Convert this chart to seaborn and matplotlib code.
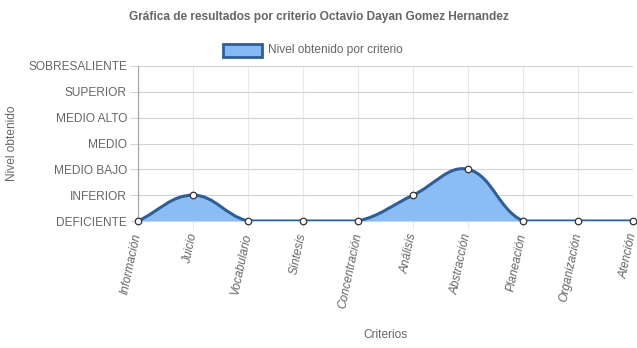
import numpy as np
import pandas as pd
import matplotlib
matplotlib.use("Agg")
import matplotlib.pyplot as plt
from matplotlib.path import Path
from matplotlib.patches import PathPatch, Rectangle
import seaborn as sns

criterios = ["Información", "Juicio", "Vocabulario", "Síntesis", "Concentración",
             "Análisis", "Abstracción", "Planeación", "Organización", "Atención"]
niveles = ["DEFICIENTE", "INFERIOR", "MEDIO BAJO", "MEDIO", "MEDIO ALTO",
           "SUPERIOR", "SOBRESALIENTE"]
valores = [0, 1, 0, 0, 0, 1, 2, 0, 0, 0]

titulo = "Gráfica de resultados por criterio Octavio Dayan Gomez Hernandez"
serie = "Nivel obtenido por criterio"

sns.set_theme(style="white")
plt.rcParams['font.family'] = ['Liberation Sans', 'DejaVu Sans']

GRAY = "#666666"
LINE = "#2e5f98"
FILL = "#86b9f4"
HGRID = "#d2d2d2"
VGRID = "#e8e8e8"

W, H = 637, 348
fig = plt.figure(figsize=(W / 100, H / 100), dpi=100)
x0, x1, ytop, ybot = 138, 633, 66, 221
ax = fig.add_axes([x0 / W, 1 - ybot / H, (x1 - x0) / W, (ybot - ytop) / H])

df = pd.DataFrame({"x": np.arange(len(criterios)), "y": valores})
ax.set_xlim(0, len(criterios) - 1)
ax.set_ylim(0, len(niveles) - 1)

# Chart.js-like spline (tension 0.4) computed in display space
pts = ax.transData.transform(df[["x", "y"]].to_numpy(dtype=float))
n = len(pts)
t = 0.4
cprev = np.zeros_like(pts)
cnext = np.zeros_like(pts)
for i in range(n):
    p0 = pts[i - 1] if i > 0 else pts[i]
    p1 = pts[i]
    p2 = pts[i + 1] if i < n - 1 else pts[i]
    d01 = np.hypot(*(p1 - p0))
    d12 = np.hypot(*(p2 - p1))
    tot = d01 + d12
    s01 = d01 / tot if tot else 0
    s12 = d12 / tot if tot else 0
    cprev[i] = p1 - t * s01 * (p2 - p0)
    cnext[i] = p1 + t * s12 * (p2 - p0)
inv = ax.transData.inverted()
cprev = inv.transform(cprev)
cnext = inv.transform(cnext)
cprev[:, 1] = np.clip(cprev[:, 1], 0, len(niveles) - 1)
cnext[:, 1] = np.clip(cnext[:, 1], 0, len(niveles) - 1)
data = df[["x", "y"]].to_numpy(dtype=float)

verts = [tuple(data[0])]
codes = [Path.MOVETO]
for i in range(n - 1):
    verts += [tuple(cnext[i]), tuple(cprev[i + 1]), tuple(data[i + 1])]
    codes += [Path.CURVE4] * 3
line_path = Path(verts, codes)
fill_verts = verts + [(data[-1][0], 0), (data[0][0], 0), (data[0][0], 0)]
fill_codes = codes + [Path.LINETO, Path.LINETO, Path.CLOSEPOLY]
ax.add_patch(PathPatch(Path(fill_verts, fill_codes), facecolor=FILL,
                       edgecolor="none", alpha=0.95, zorder=2))
ax.add_patch(PathPatch(line_path, facecolor="none", edgecolor=LINE,
                       lw=2.2, zorder=3, capstyle="round"))

sns.scatterplot(data=df, x="x", y="y", ax=ax, s=22, color="white",
                edgecolor="#333333", linewidth=0.9, zorder=4, clip_on=False,
                legend=False)

ax.set_xticks(range(len(criterios)))
ax.set_xticklabels(criterios, rotation=78, ha="right", va="center",
                   rotation_mode="anchor", style="italic", color=GRAY,
                   fontsize=8.6)
ax.set_yticks(range(len(niveles)))
ax.set_yticklabels(niveles, color=GRAY, fontsize=8.6)
ax.tick_params(axis="y", length=6, width=0.72, color=HGRID, pad=2, left=True)
ax.tick_params(axis="x", length=6, width=0.72, color=VGRID, pad=3, bottom=True)
ax.set_axisbelow(True)
ax.yaxis.grid(True, color=HGRID, lw=0.8)
ax.xaxis.grid(True, color=VGRID, lw=0.8)
for s in ["top", "right"]:
    ax.spines[s].set_visible(False)
ax.spines["left"].set_color("#a8a8a8")
ax.spines["left"].set_linewidth(0.9)
ax.spines["bottom"].set_color(HGRID)
ax.spines["bottom"].set_linewidth(0.8)
ax.set_xlabel("")
ax.set_ylabel("")

fig.text(318.5 / W, 1 - 17 / H, titulo, ha="center", va="center",
         fontsize=8.6, fontweight="bold", color=GRAY)
fig.text(385.5 / W, 1 - 335 / H, "Criterios", ha="center", va="center",
         fontsize=8.6, color=GRAY)
fig.text(12 / W, 1 - 143 / H, "Nivel obtenido", ha="center", va="center",
         rotation=90, fontsize=8.6, color=GRAY)

fig.patches.append(Rectangle((223 / W, 1 - 57 / H), 39 / W, 13 / H,
                             transform=fig.transFigure, facecolor=FILL,
                             edgecolor=LINE, lw=2.0))
fig.text(268 / W, 1 - 50 / H, serie, ha="left", va="center",
         fontsize=8.6, color=GRAY)

fig.savefig("out.png", dpi=100)
